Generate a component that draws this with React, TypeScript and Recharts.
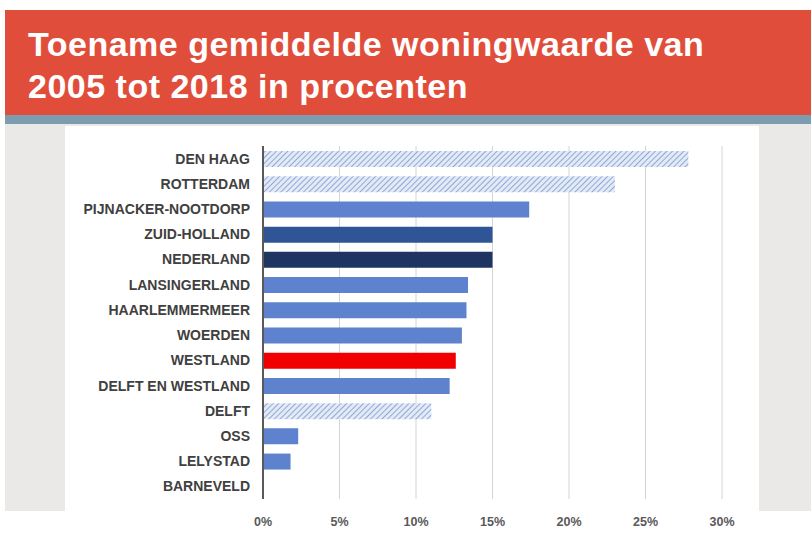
import React from 'react';
import { BarChart, Bar, XAxis, YAxis, CartesianGrid, Cell } from 'recharts';

// Toename gemiddelde woningwaarde 2005-2018 (%)
const regions = [
  'DEN HAAG',
  'ROTTERDAM',
  'PIJNACKER-NOOTDORP',
  'ZUID-HOLLAND',
  'NEDERLAND',
  'LANSINGERLAND',
  'HAARLEMMERMEER',
  'WOERDEN',
  'WESTLAND',
  'DELFT EN WESTLAND',
  'DELFT',
  'OSS',
  'LELYSTAD',
  'BARNEVELD',
];
const increase = [27.8, 23.0, 17.4, 15.0, 15.0, 13.4, 13.3, 13.0, 12.6, 12.2, 11.0, 2.3, 1.8, 0];
// bar kind per region: hatched = large cities, highlight = Westland
const barKind = [
  'hatch', 'hatch', 'plain', 'province', 'country', 'plain', 'plain',
  'plain', 'highlight', 'plain', 'hatch', 'plain', 'plain', 'plain',
];
const xTicks = [0, 5, 10, 15, 20, 25, 30];

const fills: Record<string, string> = {
  plain: '#5e82cd',
  province: '#2f5597',
  country: '#1f3461',
  highlight: '#f00000',
  hatch: 'url(#hatch)',
};

const data = regions.map((name, i) => ({ name, value: increase[i], kind: barKind[i] }));

const FONT = '"Liberation Sans", Arial, sans-serif';

const YTick = (props: any) => {
  const { x, y, payload } = props;
  return (
    <text x={x - 5} y={y} dy={5} textAnchor="end" fill="#404040" fontSize={14} fontFamily={FONT} fontWeight="bold">
      {payload.value}
    </text>
  );
};

const XTick = (props: any) => {
  const { x, y, payload } = props;
  return (
    <text x={x} y={y + 19} textAnchor="middle" fill="#595959" fontSize={12.5} fontFamily={FONT} fontWeight="bold">
      {`${payload.value}%`}
    </text>
  );
};

const App: React.FC = () => {
  return (
    <div style={{ position: 'absolute', left: 0, top: 0, width: 811, height: 541, background: '#ffffff', overflow: 'hidden' }}>
      <svg width={0} height={0} style={{ position: 'absolute' }}>
        <defs>
          <pattern id="hatch" patternUnits="userSpaceOnUse" width={4} height={4} patternTransform="rotate(45)">
            <rect width={4} height={4} fill="#e3eaf6" />
            <line x1={0} y1={0} x2={0} y2={4} stroke="#8ea9d9" strokeWidth={2} />
          </pattern>
        </defs>
      </svg>
      {/* title banner */}
      <div
        style={{
          position: 'absolute',
          left: 5,
          top: 10,
          width: 806,
          height: 106,
          background: '#e04e3b',
          color: '#fff',
          fontFamily: FONT,
          fontWeight: 'bold',
          fontSize: 34,
          lineHeight: '42px',
          letterSpacing: 0.5,
          boxSizing: 'border-box',
          padding: '13px 0 0 23px',
        }}
      >
        Toename gemiddelde woningwaarde van
        <br />
        2005 tot 2018 in procenten
      </div>
      <div style={{ position: 'absolute', left: 5, top: 115, width: 806, height: 9, background: '#7c9db0' }} />
      <div style={{ position: 'absolute', left: 5, top: 124, width: 806, height: 387, background: '#ebe8e8' }} />
      <div style={{ position: 'absolute', left: 65, top: 126, width: 694, height: 415, background: '#ffffff' }} />

      <div style={{ position: 'absolute', left: 65, top: 130 }}>
        <BarChart
          width={694}
          height={410}
          data={data}
          layout="vertical"
          margin={{ top: 16, right: 37, left: 0, bottom: 0 }}
          barSize={16}
        >
          <CartesianGrid horizontal={false} stroke="#d4d4d4" />
          <XAxis
            type="number"
            domain={[0, 30]}
            ticks={xTicks}
            axisLine={false}
            tickLine={false}
            height={41}
            tick={<XTick />}
          />
          <YAxis
            type="category"
            dataKey="name"
            width={198}
            axisLine={{ stroke: '#595959', strokeWidth: 2 }}
            tickLine={false}
            interval={0}
            tick={<YTick />}
          />
          <Bar dataKey="value" isAnimationActive={false}>
            {data.map((d, i) => (
              <Cell key={i} fill={fills[d.kind]} />
            ))}
          </Bar>
        </BarChart>
      </div>
    </div>
  );
};

export default App;
